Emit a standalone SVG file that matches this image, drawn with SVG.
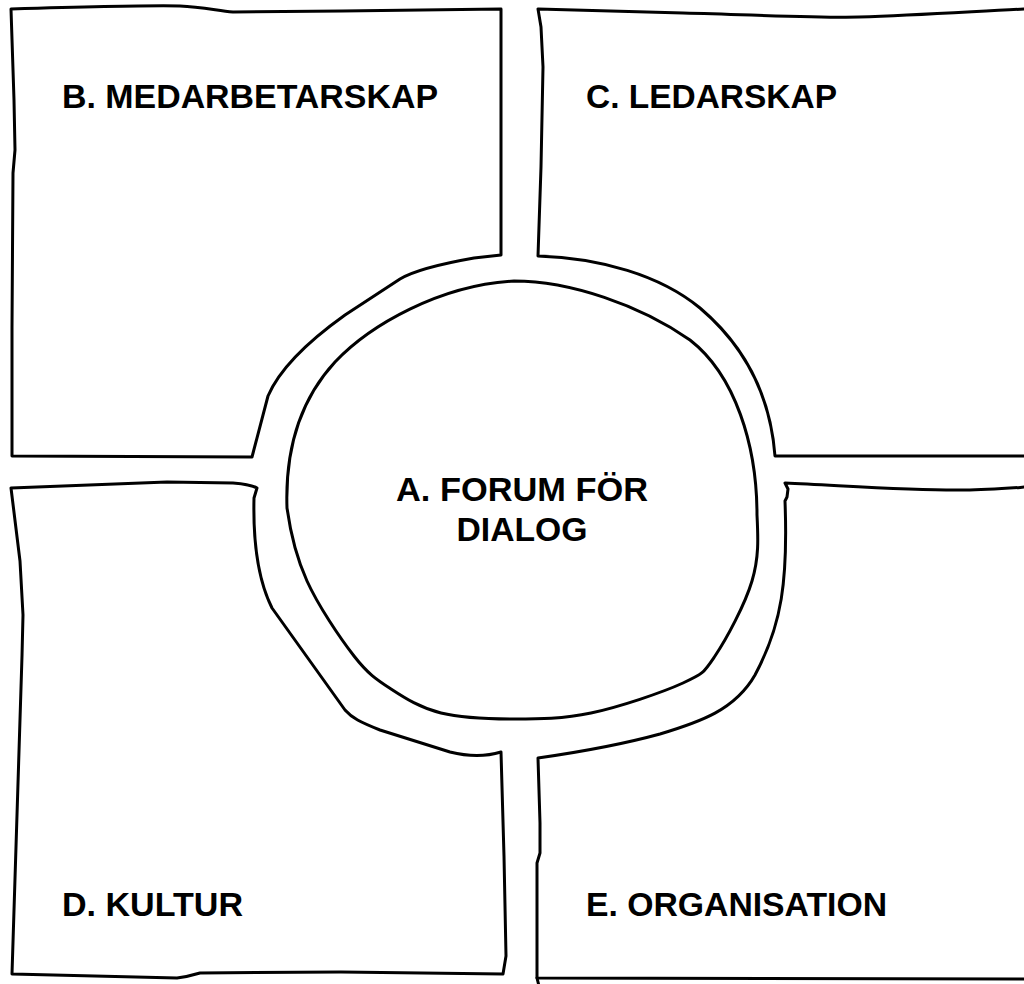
<svg xmlns="http://www.w3.org/2000/svg" width="1024" height="984" viewBox="0 0 1024 984">
<style>
.shape{fill:#ffffff;stroke:#000000;stroke-width:3;stroke-linejoin:round;stroke-linecap:round}
.lbl{font-family:"Liberation Sans",Arial,Helvetica,sans-serif;font-weight:bold;font-size:34px;fill:#000000}
</style>
<rect x="0" y="0" width="1024" height="984" fill="#ffffff"/>
<g id="node-b">
<path class="shape" d="M11,9 C80,7 150,5 180,6 C200,7 215,10 233,12 L342,11 L501,9 L501,255 L474,258 C440,264 415,270 400,279 L345,315 C310,340 280,368 268,396 L252,457 L12,456 L12,328 L13,173 L15,150 L14,100 Z"/>
<text class="lbl" x="62" y="108" textLength="376" lengthAdjust="spacingAndGlyphs">B. MEDARBETARSKAP</text>
</g>
<g id="node-c">
<path class="shape" d="M538,9 L683,13 C760,15 820,18 859,17 C920,15 980,11 1024,9 L1040,9 L1040,456 L775,456 C770,390 740,342 700,308 C660,275 600,258 538,256 L541,167 L543,67 L541,27 Z"/>
<text class="lbl" x="586" y="108" textLength="251" lengthAdjust="spacingAndGlyphs">C. LEDARSKAP</text>
</g>
<g id="node-d">
<path class="shape" d="M11,488 L167,482 L233,483 C245,484 252,485 257,488 L254,498 C253,540 258,580 272,608 L345,710 C352,718 360,722 380,730 L450,752 C470,757 488,756 501,752 L504,856 L506,956 L503,974 L341,972 L200,973 C190,976 185,977 177,978 L12,974 L22,656 L23,615 L20,561 Z"/>
<text class="lbl" x="62" y="916" textLength="181" lengthAdjust="spacingAndGlyphs">D. KULTUR</text>
</g>
<g id="node-e">
<path class="shape" d="M785,483 C850,486 920,491 965,490 C990,490 1010,488 1040,486 L1040,979 L537,978 L537,863 L540,853 L540,823 L538,758 C580,752 620,745 660,734 C700,722 735,710 755,675 C782,625 788,580 785,501 L787,497 L788,489 Z"/>
<path class="shape" fill="none" d="M537,978 L539,986"/>
<text class="lbl" x="586" y="916" textLength="301" lengthAdjust="spacingAndGlyphs">E. ORGANISATION</text>
</g>
<g id="node-a">
<path class="shape" d="M287,508 C285,450 300,400 335,362 C370,325 440,285 514,281 C570,281 640,305 690,340 C735,375 757,445 757,515 C758.2,538.8 759,557.5 752,581 C745,604.5 726.5,639 715,656 C703.5,673 703.7,673.5 683,683 C662.3,692.5 619.2,707 591,713 C562.8,719 539,719 514,719 C489,719 461.5,718 441,713 C420.5,708 405.5,698.5 391,689 C376.5,679.5 368,674 354,656 C340,638 318.2,605.7 307,581 C295.8,556.3 289.8,528 287,508 Z"/>
<text class="lbl" x="522" y="501" text-anchor="middle" textLength="252" lengthAdjust="spacingAndGlyphs">A. FORUM FÖR</text>
<text class="lbl" x="522" y="541" text-anchor="middle" textLength="131" lengthAdjust="spacingAndGlyphs">DIALOG</text>
</g>
</svg>
